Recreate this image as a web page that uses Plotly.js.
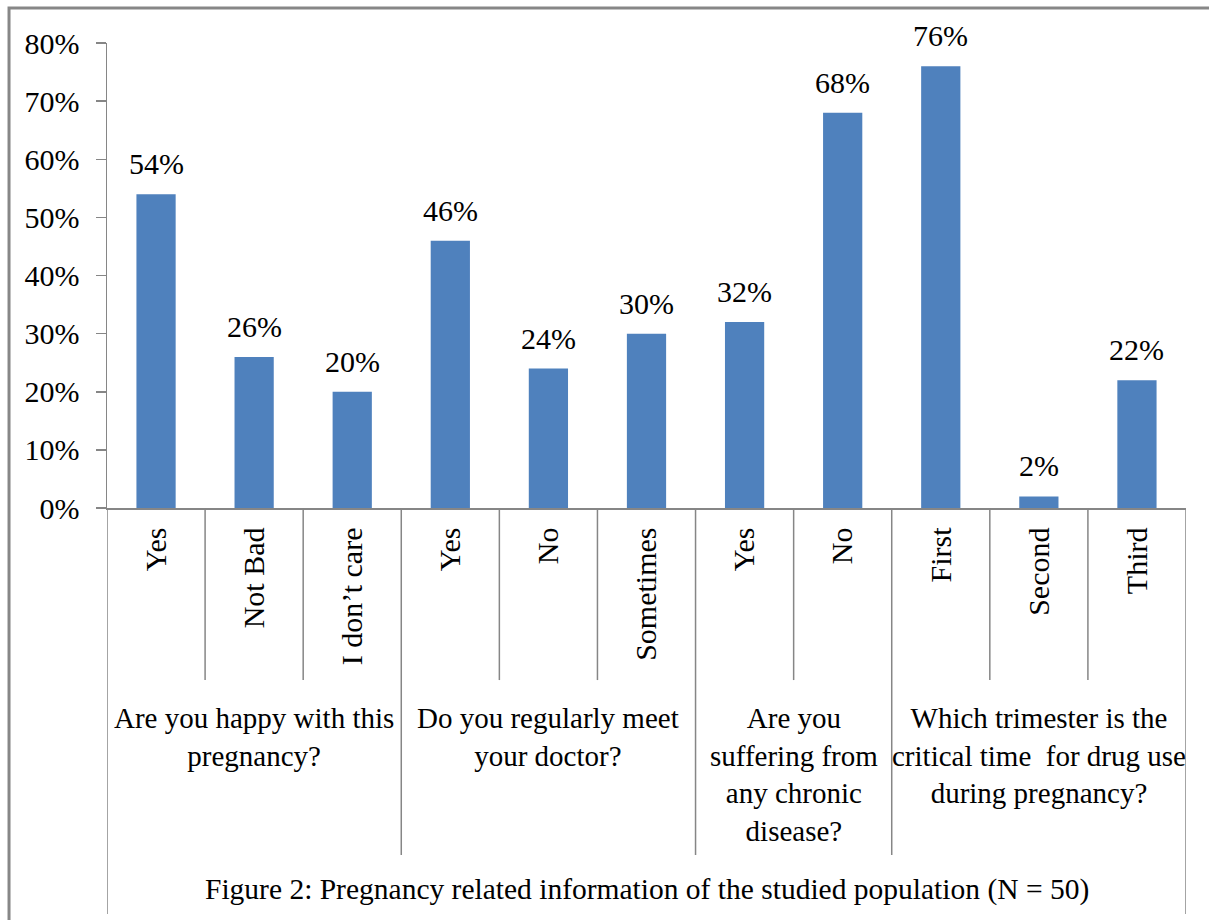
<!DOCTYPE html>
<html>
<head>
<meta charset="utf-8">
<script src="https://cdn.plot.ly/plotly-3.0.1.min.js"></script>
<style>
  html, body { margin: 0; padding: 0; background: #ffffff; }
  #chart { width: 1209px; height: 920px; }
</style>
</head>
<body>
<div id="chart"></div>
<script>
// Survey questions (outer category level) and how many answers each one has
const questions = [
  "Are you happy with this<br>pregnancy?",
  "Do you regularly meet<br>your doctor?",
  "Are you<br>suffering from<br>any chronic<br>disease?",
  "Which trimester is the<br>critical time  for drug use<br>during pregnancy?"
];
const groupSizes = [3, 3, 2, 3];

// Answers (inner category level) and the share of respondents for each
const answers = ["Yes", "Not Bad", "I don\u2019t care", "Yes", "No", "Sometimes", "Yes", "No", "First", "Second", "Third"];
const shares = [0.54, 0.26, 0.20, 0.46, 0.24, 0.30, 0.32, 0.68, 0.76, 0.02, 0.22];

const caption = "Figure 2: Pregnancy related information of the studied population (N = 50)";

const serif = "Liberation Serif, Times New Roman, serif";
const axisGrey = "#868686";
const positions = answers.map((_, i) => i);

const bars = {
  type: "bar",
  x: positions,
  y: shares,
  marker: { color: "#4F81BD", line: { width: 0 } },
  hoverinfo: "skip"
};

// Value labels above each bar
const valueLabels = shares.map((v, i) => ({
  x: positions[i], y: v, xref: "x", yref: "y",
  text: Math.round(v * 100) + "%",
  showarrow: false, yanchor: "bottom", yshift: 12,
  font: { family: serif, size: 30, color: "#000" }
}));

// Divider lines of the two-level category axis
const shapes = [];
const groupEdges = [];
let acc = 0;
groupSizes.forEach(n => { acc += n; groupEdges.push(acc); });
for (let i = 1; i < answers.length; i++) {
  const isGroupEdge = groupEdges.includes(i);
  shapes.push({
    type: "line", xref: "x", yref: "paper",
    x0: i - 0.5, x1: i - 0.5, y0: 0, y1: isGroupEdge ? -0.746 : -0.37,
    line: { color: axisGrey, width: 1.5 }
  });
}
[-0.5, answers.length - 0.5].forEach(x => {
  shapes.push({
    type: "line", xref: "x", yref: "paper",
    x0: x, x1: x, y0: 0, y1: -0.873,
    line: { color: axisGrey, width: 1.5 }
  });
});
// Frame around the figure
shapes.push({
  type: "rect", xref: "paper", yref: "paper",
  x0: -0.0908, x1: 1.2, y0: 1.0753, y1: -1.2,
  line: { color: "#878787", width: 3 }
});

// Question labels centred under their answers
const questionLabels = [];
let start = 0;
groupSizes.forEach((n, g) => {
  questionLabels.push({
    x: start + (n - 1) / 2, y: -0.4135, xref: "x", yref: "paper",
    text: questions[g], showarrow: false, yanchor: "top", align: "center",
    font: { family: serif, size: 29, color: "#000" }
  });
  start += n;
});

const captionLabel = {
  x: 0.5, y: -0.8215, xref: "paper", yref: "paper",
  text: caption, showarrow: false, yanchor: "middle",
  font: { family: serif, size: 29.5, color: "#000" }
};

const layout = {
  width: 1209, height: 920,
  margin: { l: 107, r: 23, t: 43, b: 412 },
  paper_bgcolor: "#ffffff", plot_bgcolor: "#ffffff",
  showlegend: false,
  bargap: 0.6,
  font: { family: serif, size: 30, color: "#000" },
  xaxis: {
    range: [-0.5, answers.length - 0.5],
    tickmode: "array", tickvals: positions, ticktext: answers,
    tickangle: -90, ticks: "", showgrid: false, zeroline: false,
    showline: true, linecolor: axisGrey, linewidth: 1.5,
    tickfont: { family: serif, size: 30, color: "#000" },
    ticklabelstandoff: 6,
    automargin: false, fixedrange: true
  },
  yaxis: {
    range: [0, 0.8], dtick: 0.1, tick0: 0, tickformat: ".0%",
    ticks: "outside", ticklen: 10, tickcolor: axisGrey, tickwidth: 1.5,
    showline: true, linecolor: axisGrey, linewidth: 1.5,
    showgrid: false, zeroline: false,
    tickfont: { family: serif, size: 30, color: "#000" },
    ticklabelstandoff: 10,
    automargin: false, fixedrange: true
  },
  shapes: shapes,
  annotations: valueLabels.concat(questionLabels, [captionLabel])
};

Plotly.newPlot("chart", [bars], layout, { displayModeBar: false, staticPlot: true });
</script>
</body>
</html>
